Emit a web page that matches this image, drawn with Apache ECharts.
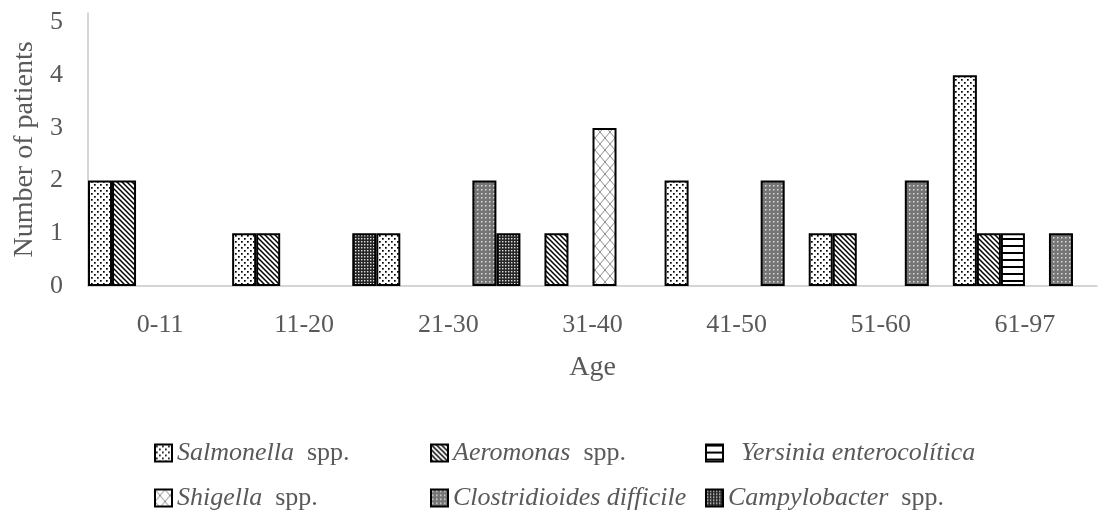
<!DOCTYPE html>
<html>
<head>
<meta charset="utf-8">
<script src="https://cdn.jsdelivr.net/npm/echarts@6/dist/echarts.min.js"></script>
<style>
html,body{margin:0;padding:0;background:#fff;}
#chart{width:1099px;height:510px;}
</style>
</head>
<body>
<div id="chart"></div>
<script>
// ---- data ----
var categories = ['0-11', '11-20', '21-30', '31-40', '41-50', '51-60', '61-97'];
var seriesNames = ['Salmonella spp.', 'Aeromonas spp.', 'Yersinia enterocolítica', 'Shigella spp.', 'Clostridioides difficile', 'Campylobacter spp.'];
var salmonella     = [2, 1, 1, 0, 2, 1, 4];
var aeromonas      = [2, 1, 0, 1, 0, 1, 1];
var yersinia       = [0, 0, 0, 0, 0, 0, 1];
var shigella       = [0, 0, 0, 3, 0, 0, 0];
var clostridioides = [0, 0, 2, 0, 2, 2, 1];
var campylobacter  = [0, 1, 1, 0, 0, 0, 0];
var yTicks = [0, 1, 2, 3, 4, 5];

// ---- patterns ----
function tile(w, h, draw) {
  var c = document.createElement('canvas');
  c.width = w; c.height = h;
  var g = c.getContext('2d');
  draw(g, w, h);
  return { image: c, repeat: 'repeat' };
}
var patSalmonella = tile(6, 6, function (g, w, h) {
  g.fillStyle = '#fff'; g.fillRect(0, 0, w, h);
  g.fillStyle = '#000';
  g.fillRect(1, 1, 1.7, 1.7); g.fillRect(4, 4, 1.7, 1.7);
});
var patAeromonas = tile(5, 5, function (g, w, h) {
  g.fillStyle = '#fff'; g.fillRect(0, 0, w, h);
  g.strokeStyle = '#000'; g.lineWidth = 1.5;
  g.beginPath();
  g.moveTo(-1, -1); g.lineTo(6, 6);
  g.moveTo(-1, 4); g.lineTo(1, 6);
  g.moveTo(4, -1); g.lineTo(6, 1);
  g.stroke();
});
var patYersinia = tile(7, 7, function (g, w, h) {
  g.fillStyle = '#fff'; g.fillRect(0, 0, w, h);
  g.fillStyle = '#000'; g.fillRect(0, 0, w, 2);
});
var patShigella = tile(10, 12, function (g, w, h) {
  g.fillStyle = '#fff'; g.fillRect(0, 0, w, h);
  g.strokeStyle = '#8c8c8c'; g.lineWidth = 1;
  g.beginPath();
  g.moveTo(0, 0); g.lineTo(w, h);
  g.moveTo(w, 0); g.lineTo(0, h);
  g.stroke();
});
var patClostridioides = tile(4, 4, function (g, w, h) {
  g.fillStyle = '#757575'; g.fillRect(0, 0, w, h);
  g.fillStyle = '#dcdcdc'; g.fillRect(1, 1, 1.5, 1.5);
});
var patCampylobacter = tile(3, 3, function (g, w, h) {
  g.fillStyle = '#262626'; g.fillRect(0, 0, w, h);
  g.fillStyle = '#e0e0e0'; g.fillRect(1, 1, 1.4, 1.4);
});
var patterns = [patSalmonella, patAeromonas, patYersinia, patShigella, patClostridioides, patCampylobacter];
var values = [salmonella, aeromonas, yersinia, shigella, clostridioides, campylobacter];

var FONT = 'Liberation Serif';
var GRAY = '#595959';

var series = seriesNames.map(function (n, i) {
  return {
    name: n,
    type: 'bar',
    barGap: '0%',
    barCategoryGap: '0%',
    data: values[i].map(function (v) { return v === 0 ? null : v; }),
    itemStyle: { color: patterns[i], borderColor: '#000', borderWidth: 2 },
    emphasis: { disabled: true }
  };
});

// legend positions (3 columns x 2 rows, row-wise order as in the source)
var legendPos = [[149, 433], [425, 433], [700, 433], [149, 478], [425, 478], [700, 478]];
var legends = seriesNames.map(function (n, k) {
  return {
    data: [n],
    left: legendPos[k][0],
    top: legendPos[k][1],
    icon: 'rect',
    itemWidth: 17,
    itemHeight: 17,
    selectedMode: false,
    itemStyle: { borderColor: '#000', borderWidth: 2 },
    formatter: function (name) {
      if (name.slice(-5) === ' spp.') return '{i|' + name.slice(0, -5) + '}  spp.';
      if (name.indexOf('Yersinia') === 0) return '{i|  ' + name + '}';
      return '{i|' + name + '}';
    },
    textStyle: {
      fontFamily: FONT, fontSize: 26, color: GRAY, lineHeight: 30,
      rich: { i: { fontFamily: FONT, fontSize: 26, fontStyle: 'italic', color: GRAY, lineHeight: 30 } }
    }
  };
});

var option = {
  animation: false,
  backgroundColor: '#fff',
  grid: { left: 88, right: 2, top: 13, bottom: 224, containLabel: false },
  legend: legends,
  xAxis: {
    type: 'category',
    data: categories,
    name: 'Age',
    nameLocation: 'middle',
    nameGap: 68,
    nameTextStyle: { fontFamily: FONT, fontSize: 28, color: GRAY, verticalAlign: 'top' },
    axisLine: { lineStyle: { color: '#c8c8c8', width: 1.5 } },
    axisTick: { show: false },
    axisLabel: { fontFamily: FONT, fontSize: 26, color: GRAY, margin: 26 },
    splitLine: { show: false }
  },
  yAxis: {
    type: 'value',
    min: yTicks[0],
    max: 5.18,
    interval: 1,
    name: 'Number of patients',
    nameLocation: 'middle',
    nameGap: 48,
    nameTextStyle: { fontFamily: FONT, fontSize: 28, color: GRAY },
    axisLine: { show: true, lineStyle: { color: '#c8c8c8', width: 1.5 } },
    axisTick: { show: false },
    axisLabel: { fontFamily: FONT, fontSize: 26, color: GRAY, margin: 25, showMaxLabel: false },
    splitLine: { show: false }
  },
  series: series
};

var chart = echarts.init(document.getElementById('chart'), null, { renderer: 'canvas' });
chart.setOption(option);
</script>
</body>
</html>
